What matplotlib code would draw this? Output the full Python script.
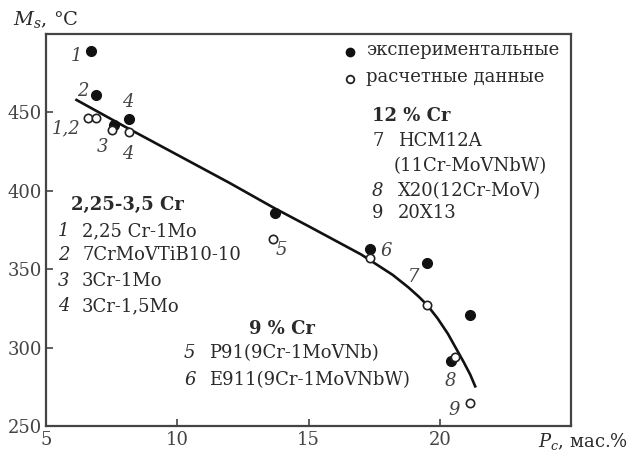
import matplotlib
matplotlib.use("Agg")
import matplotlib.pyplot as plt
import numpy as np

plt.rcParams['font.family'] = ['DejaVu Serif']
plt.rcParams['mathtext.fontset'] = 'dejavuserif'
plt.rcParams['xtick.direction'] = 'in'
plt.rcParams['ytick.direction'] = 'in'

# experimental (filled) points: P_c, Ms
exp_pc = [6.73, 6.92, 7.58, 8.17, 13.72, 17.35, 19.51, 21.15, 20.42]
exp_ms = [489.3, 461.2, 442.1, 445.9, 386.0, 362.7, 354.2, 321.0, 291.9]

# calculated (open) points
calc_pc = [6.60, 6.92, 7.52, 8.17, 13.65, 17.35, 19.51, 20.58, 21.15]
calc_ms = [446.6, 446.6, 439.0, 437.4, 369.7, 357.4, 327.3, 294.5, 264.9]

# fitted curve
curve_pc = [6.16, 8.0, 10.0, 12.0, 13.7, 15.0, 16.0, 17.0, 17.6, 18.2, 18.8, 19.2,
            19.5, 19.9, 20.3, 20.6, 20.9, 21.15, 21.34]
curve_ms = [458.0, 441.0, 423.0, 405.0, 389.0, 377.5, 368.5, 359.5, 353.0, 346.5,
            338.5, 332.5, 327.5, 319.0, 309.0, 300.0, 291.0, 283.0, 275.5]

# point labels: text, x, y
point_labels = [("1", 6.16, 486), ("2", 6.41, 463.9), ("1,2", 5.78, 439.6),
                ("3", 7.17, 427.9), ("4", 8.11, 456.5), ("4", 8.11, 423.7),
                ("5", 13.97, 362.3), ("6", 17.94, 361.8), ("7", 19.01, 345.3),
                ("8", 20.39, 278.6), ("9", 20.52, 260.6)]

x_ticks = [5, 10, 15, 20]
y_ticks = [250, 300, 350, 400, 450]

txt = '#2a2a2a'
fs = 13

fig = plt.figure(figsize=(6.32, 4.55), dpi=100)
ax = fig.add_axes([0.0728, 0.063, 0.8312, 0.8622])

ax.plot(curve_pc, curve_ms, color='#111111', linewidth=1.9, zorder=2)
ax.plot(exp_pc, exp_ms, 'o', color='#111111', markersize=7, zorder=3)
ax.plot(calc_pc, calc_ms, 'o', markerfacecolor='white', markeredgecolor='#222222',
        markeredgewidth=1.2, markersize=6, zorder=4)

for t, x, y in point_labels:
    ax.text(x, y, t, fontsize=fs, style='italic', color='#444444', ha='center', va='center')

ax.set_xlim(5, 25)
ax.set_ylim(250, 500)
ax.set_xticks(x_ticks)
ax.set_yticks(y_ticks)
ax.tick_params(labelsize=fs, colors='#444444', length=5, width=1.2, pad=3)
for s in ax.spines.values():
    s.set_linewidth(1.6)
    s.set_color('#444444')

# axis titles
fig.text(13 / 632, 1 - 20 / 455, r'$M_s$, °C', fontsize=fs + 1, color=txt, va='center', ha='left')
fig.text(538 / 632, 1 - 441 / 455, r'$P_c$, мас.%', fontsize=fs, color=txt, va='center', ha='left')

def ptext(x, y, s, **kw):
    fig.text(x / 632, 1 - y / 455, s, fontsize=fs, color=txt, va='center', ha='left', **kw)

# legend
ax.plot([350 / 632], [1 - 51.7 / 455], 'o', color='#111111', markersize=6,
        transform=fig.transFigure, clip_on=False)
ax.plot([350 / 632], [1 - 79 / 455], 'o', markerfacecolor='white', markeredgecolor='#222222',
        markeredgewidth=1.3, markersize=5.5, transform=fig.transFigure, clip_on=False)
ptext(366, 50, 'экспериментальные')
ptext(366, 77, 'расчетные данные')

# 12 % Cr block
ptext(372, 116, '12 % Cr', weight='bold')
ptext(372, 141, '7')
ptext(398, 141, 'HCM12A')
ptext(394, 166, '(11Cr-MoVNbW)')
ptext(372, 191, '8', style='italic')
ptext(398, 191, 'X20(12Cr-MoV)')
ptext(372, 213, '9')
ptext(398, 213, '20X13')

# 2,25-3,5 Cr block
ptext(71, 205, '2,25-3,5 Cr', weight='bold')
ptext(58, 231, '1', style='italic')
ptext(82, 231, '2,25 Cr-1Mo')
ptext(58, 255, '2', style='italic')
ptext(82, 255, '7CrMoVTiB10-10')
ptext(58, 281, '3', style='italic')
ptext(82, 281, '3Cr-1Mo')
ptext(58, 306, '4', style='italic')
ptext(82, 306, '3Cr-1,5Mo')

# 9 % Cr block
ptext(249, 329, '9 % Cr', weight='bold')
ptext(184, 353, '5', style='italic')
ptext(209, 353, 'P91(9Cr-1MoVNb)')
ptext(184, 380, '6', style='italic')
ptext(209, 380, 'E911(9Cr-1MoVNbW)')

fig.savefig('out.png', dpi=100)
